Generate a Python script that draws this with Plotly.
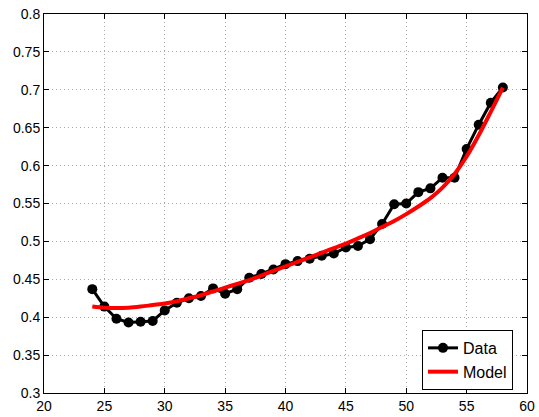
import plotly.graph_objects as go

x_data = list(range(24, 59))
y_data = [0.437, 0.414, 0.398, 0.393, 0.394, 0.395, 0.409, 0.419, 0.425, 0.428,
          0.438, 0.431, 0.437, 0.452, 0.457, 0.463, 0.470, 0.474, 0.477, 0.481,
          0.484, 0.492, 0.494, 0.503, 0.523, 0.549, 0.550, 0.565, 0.570, 0.584,
          0.584, 0.622, 0.654, 0.683, 0.703]

x_model = list(range(24, 59))
y_model = [0.414, 0.4125, 0.412, 0.4125, 0.414, 0.416, 0.418, 0.421, 0.425, 0.429,
           0.434, 0.439, 0.444, 0.449, 0.455, 0.461, 0.467, 0.473, 0.479, 0.485,
           0.491, 0.497, 0.504, 0.511, 0.519, 0.527, 0.536, 0.546, 0.557, 0.571,
           0.589, 0.612, 0.640, 0.671, 0.703]

x_ticks = [20, 25, 30, 35, 40, 45, 50, 55, 60]
y_ticks = [0.3, 0.35, 0.4, 0.45, 0.5, 0.55, 0.6, 0.65, 0.7, 0.75, 0.8]
y_tick_text = ["0.3", "0.35", "0.4", "0.45", "0.5", "0.55", "0.6", "0.65", "0.7", "0.75", "0.8"]

fig = go.Figure()
fig.add_trace(go.Scatter(x=x_data, y=y_data, mode="lines+markers", name="Data",
                         line=dict(color="black", width=3),
                         marker=dict(color="black", size=10, symbol="circle")))
fig.add_trace(go.Scatter(x=x_model, y=y_model, mode="lines", name="Model",
                         line=dict(color="#ff0000", width=4, shape="spline")))

axis_common = dict(showline=True, linecolor="black", linewidth=1, mirror="ticks",
                   ticks="inside", ticklen=5, tickcolor="black", automargin=False,
                   showgrid=True, gridcolor="#a8a8a8", griddash="1px,3px", gridwidth=1,
                   zeroline=False, tickfont=dict(family="Liberation Sans, Arial", size=14, color="black"))

fig.update_xaxes(range=[20, 60], tickvals=x_ticks, ticktext=[str(v) for v in x_ticks], **axis_common)
fig.update_yaxes(range=[0.3, 0.8], tickvals=y_ticks, ticktext=y_tick_text, **axis_common)

fig.update_layout(
    width=539, height=417,
    margin=dict(l=44, r=12, t=14, b=24, autoexpand=False),
    paper_bgcolor="white", plot_bgcolor="white",
    showlegend=True,
    legend=dict(x=0.971, y=0.008, xanchor="right", yanchor="bottom",
                bgcolor="white", bordercolor="black", borderwidth=1,
                font=dict(family="Liberation Sans, Arial", size=16, color="black"),
                tracegroupgap=0, itemwidth=30),
)

fig.write_html("out.html", config={"displayModeBar": False},
               post_script="document.body.style.margin='0';document.body.style.overflow='hidden';")
